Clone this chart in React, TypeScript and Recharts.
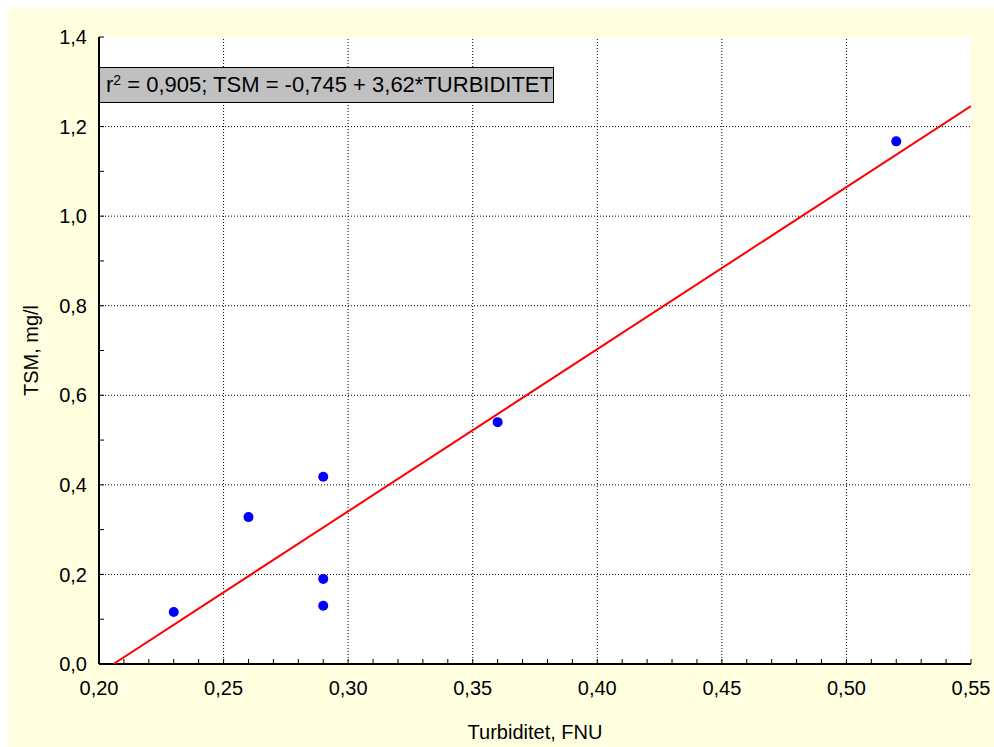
import React from 'react';
import { ScatterChart, Scatter, XAxis, YAxis, ReferenceLine, ReferenceArea } from 'recharts';

// measured samples
const turbidity = [0.23, 0.26, 0.29, 0.29, 0.29, 0.36, 0.52];
const tsm = [0.116, 0.328, 0.418, 0.19, 0.13, 0.54, 1.167];

// regression line end points (TSM = -0,745 + 3,62*TURBIDITET)
const fitX = [0.2058, 0.55];
const fitY = [0, 1.246];

const xTicks = [
  0.2, 0.21, 0.22, 0.23, 0.24, 0.25, 0.26, 0.27, 0.28, 0.29, 0.3, 0.31, 0.32, 0.33, 0.34, 0.35, 0.36, 0.37,
  0.38, 0.39, 0.4, 0.41, 0.42, 0.43, 0.44, 0.45, 0.46, 0.47, 0.48, 0.49, 0.5, 0.51, 0.52, 0.53, 0.54, 0.55,
];
const yTicks = [0, 0.1, 0.2, 0.3, 0.4, 0.5, 0.6, 0.7, 0.8, 0.9, 1.0, 1.1, 1.2, 1.3, 1.4];
const xGrid = [0.25, 0.3, 0.35, 0.4, 0.45, 0.5];
const yGrid = [0.2, 0.4, 0.6, 0.8, 1.0, 1.2];

const points = turbidity.map((x, i) => ({ x, y: tsm[i] }));
const fitLine = fitX.map((x, i) => ({ x, y: fitY[i] }));

const FONT = '"Liberation Sans", Arial, sans-serif';

const fmtX = (v: number) => (Math.round(v * 100) % 5 === 0 ? v.toFixed(2).replace('.', ',') : '');
const fmtY = (v: number) => (Math.round(v * 10) % 2 === 0 ? v.toFixed(1).replace('.', ',') : '');

const tickStyle = { fontSize: 20, fill: '#000', fontFamily: FONT };
const axisLine = { stroke: '#000', strokeWidth: 2 };
const tickLine = { stroke: '#000', strokeWidth: 1 };

const Dot = (p: any) => <circle cx={p.cx} cy={p.cy} r={5} fill="#0000FF" />;

export default function App() {
  return (
    <div
      style={{
        position: 'absolute',
        left: 8,
        top: 8,
        width: 986,
        height: 739,
        background: '#FFFFE0',
        fontFamily: FONT,
        overflow: 'hidden',
      }}
    >
      <ScatterChart width={986} height={739} margin={{ top: 29, right: 23, bottom: 0, left: 0 }}>
        <ReferenceArea x1={0.2} x2={0.55} y1={0} y2={1.4} fill="#FFFFFF" fillOpacity={1} stroke="none" />
        {xGrid.map((v) => (
          <ReferenceLine key={'gx' + v} x={v} stroke="#000" strokeDasharray="1 2" />
        ))}
        {yGrid.map((v) => (
          <ReferenceLine key={'gy' + v} y={v} stroke="#000" strokeDasharray="1 2" />
        ))}
        <XAxis
          type="number"
          dataKey="x"
          domain={[0.2, 0.55]}
          ticks={xTicks}
          interval={0}
          tickFormatter={fmtX}
          tick={tickStyle}
          tickSize={-5}
          tickMargin={22}
          height={83}
          axisLine={axisLine}
          tickLine={tickLine}
          allowDataOverflow
          label={{
            content: (p: any) => {
              const vb = p.viewBox;
              return (
                <text x={vb.x + vb.width / 2} y={vb.y + 75} textAnchor="middle" fontSize={20} fontFamily={FONT} fill="#000">
                  Turbiditet, FNU
                </text>
              );
            },
          }}
        />
        <XAxis
          xAxisId="top"
          orientation="top"
          type="number"
          dataKey="x"
          domain={[0.2, 0.55]}
          ticks={xTicks}
          interval={0}
          tick={false}
          tickSize={-5}
          height={0}
          axisLine={axisLine}
          tickLine={tickLine}
          allowDataOverflow
        />
        <YAxis
          type="number"
          dataKey="y"
          domain={[0, 1.4]}
          ticks={yTicks}
          interval={0}
          tickFormatter={fmtY}
          tick={tickStyle}
          tickSize={-5}
          tickMargin={17}
          width={91}
          axisLine={axisLine}
          tickLine={tickLine}
          allowDataOverflow
          label={{
            content: (p: any) => {
              const vb = p.viewBox;
              const cx = vb.x + 23;
              const cy = vb.y + vb.height / 2;
              return (
                <text
                  x={cx}
                  y={cy}
                  transform={`rotate(-90 ${cx} ${cy})`}
                  textAnchor="middle"
                  dominantBaseline="central"
                  fontSize={20}
                  fontFamily={FONT}
                  fill="#000"
                >
                  TSM, mg/l
                </text>
              );
            },
          }}
        />
        <YAxis
          yAxisId="right"
          orientation="right"
          type="number"
          dataKey="y"
          domain={[0, 1.4]}
          ticks={yTicks}
          interval={0}
          tick={false}
          tickSize={-5}
          width={0}
          axisLine={axisLine}
          tickLine={tickLine}
          allowDataOverflow
        />
        <Scatter
          data={fitLine}
          line={{ stroke: '#FF0000', strokeWidth: 2 }}
          shape={() => <g />}
          isAnimationActive={false}
        />
        <Scatter data={points} fill="#0000FF" shape={Dot} isAnimationActive={false} />
      </ScatterChart>
      <div
        style={{
          position: 'absolute',
          left: 91,
          top: 59,
          width: 447,
          height: 34,
          background: '#C0C0C0',
          border: '1px solid #000',
          fontSize: 22,
          lineHeight: '34px',
          paddingLeft: 6,
          boxSizing: 'content-box',
          whiteSpace: 'nowrap',
          color: '#000',
          overflow: 'hidden',
        }}
      >
        r<sup style={{ fontSize: 14, verticalAlign: 'top', lineHeight: '24px' }}>2</sup> = 0,905; TSM = -0,745 + 3,62*TURBIDITET
      </div>
    </div>
  );
}
